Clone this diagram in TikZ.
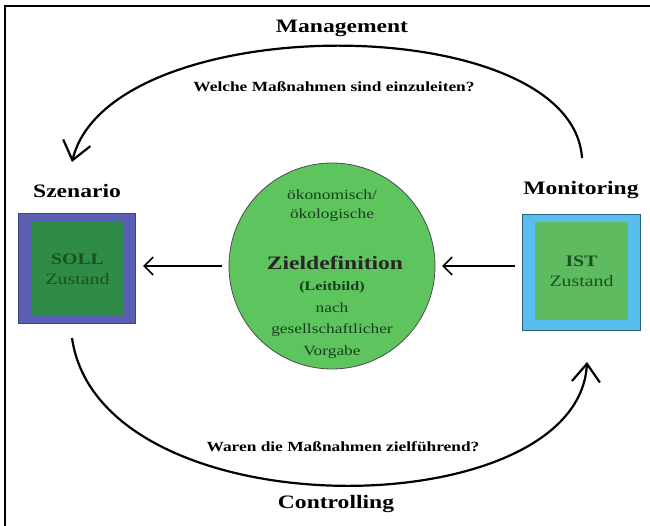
\documentclass[tikz,border=0pt]{standalone}
\usepackage{fontspec}
\usepackage{graphicx}
\setmainfont{Liberation Serif}
\usetikzlibrary{arrows.meta}
\definecolor{sollout}{HTML}{5A5FB4}
\definecolor{sollin}{HTML}{2F8C47}
\definecolor{istout}{HTML}{58BEF0}
\definecolor{istin}{HTML}{5FBB5F}
\definecolor{circfill}{HTML}{5EC55E}
\definecolor{boxtext}{HTML}{1C4F24}
\newcommand{\widetxt}[1]{\scalebox{1.24}[1]{#1}}
\tikzset{
  big/.style={font=\fontsize{19}{22}\selectfont\bfseries, inner sep=0pt},
  question/.style={font=\fontsize{14}{16}\selectfont\bfseries, inner sep=0pt},
  ctext/.style={font=\fontsize{14}{16}\selectfont, text=boxtext!80!black, inner sep=0pt},
  btext/.style={font=\fontsize{16}{18}\selectfont, text=boxtext, inner sep=0pt},
  arc/.style={line width=2.2pt, -{Straight Barb[length=18pt,width=28pt,line width=2.2pt]}},
  harrow/.style={line width=1.6pt, -{Straight Barb[length=9pt,width=18pt,line width=1.6pt]}},
}
\begin{document}
\begin{tikzpicture}[x=1pt,y=-1pt]
\useasboundingbox (0,0) rectangle (650,526);
% frame
\coordinate (fa) at (5,526);
\coordinate (fb) at (5,6);
\coordinate (fc) at (650,6);
\draw[line width=2.2pt] (fa) -- (fb) -- (fc);

% titles
\node[big] (mgmt) at (342,28) {\widetxt{Management}};
\node[big] (ctrl) at (336,504) {\widetxt{Controlling}};
\node[big] (szen) at (77,191) {\widetxt{Szenario}};
\node[big] (moni) at (581,190) {\widetxt{Monitoring}};
\node[question] (q1) at (334,87) {\widetxt{Welche Maßnahmen sind einzuleiten?}};
\node[question] (q2) at (343,447) {\widetxt{Waren die Maßnahmen zielführend?}};

% SOLL box
\node[draw=sollout!70!black, fill=sollout, line width=0.6pt, minimum width=117pt, minimum height=110pt, inner sep=0pt] (soll) at (76.5,268) {};
\node[fill=sollin, minimum width=93pt, minimum height=94pt, inner sep=0pt, align=center, btext] (sollin) at (77.5,269) {\widetxt{\textbf{SOLL}}\\[2pt]\widetxt{Zustand}};

% IST box
\node[draw=istout!50!black, fill=istout, line width=0.6pt, minimum width=118pt, minimum height=116pt, inner sep=0pt] (ist) at (581,272) {};
\node[fill=istin, minimum width=93pt, minimum height=98pt, inner sep=0pt, align=center, btext] (istin) at (581.5,271) {\widetxt{\textbf{IST}}\\[2pt]\widetxt{Zustand}};

% circle
\node[circle, draw=black!70, fill=circfill, line width=0.8pt, minimum size=206pt, inner sep=0pt] (zd) at (332,266) {};
\node[ctext] (t1) at (332,195) {\widetxt{ökonomisch/}};
\node[ctext] (t2) at (332,215) {\widetxt{ökologische}};
\node[ctext, font=\fontsize{19}{22}\selectfont\bfseries, text=black!85] (t3) at (335,263) {\widetxt{Zieldefinition}};
\node[ctext, font=\fontsize{13}{15}\selectfont\bfseries] (t4) at (332,287) {\widetxt{(Leitbild)}};
\node[ctext] (t5) at (332,308) {\widetxt{nach}};
\node[ctext] (t6) at (332,330) {\widetxt{gesellschaftlicher}};
\node[ctext] (t7) at (332,352) {\widetxt{Vorgabe}};

% horizontal arrows
\coordinate (hl1) at (222,266);
\coordinate (hl2) at (143,266);
\coordinate (hr1) at (515,266);
\coordinate (hr2) at (442,266);
\draw[harrow] (hl1) -- (hl2);
\draw[harrow] (hr1) -- (hr2);

% big arcs
\coordinate (a1s) at (582,158);
\coordinate (a1e) at (72,162);
\draw[arc] (a1s) .. controls (572,8) and (110,8) .. (a1e);
\coordinate (a2s) at (72,338);
\coordinate (a2e) at (587,362);
\draw[arc] (a2s) .. controls (100,533) and (578,528) .. (a2e);
\end{tikzpicture}
\end{document}
